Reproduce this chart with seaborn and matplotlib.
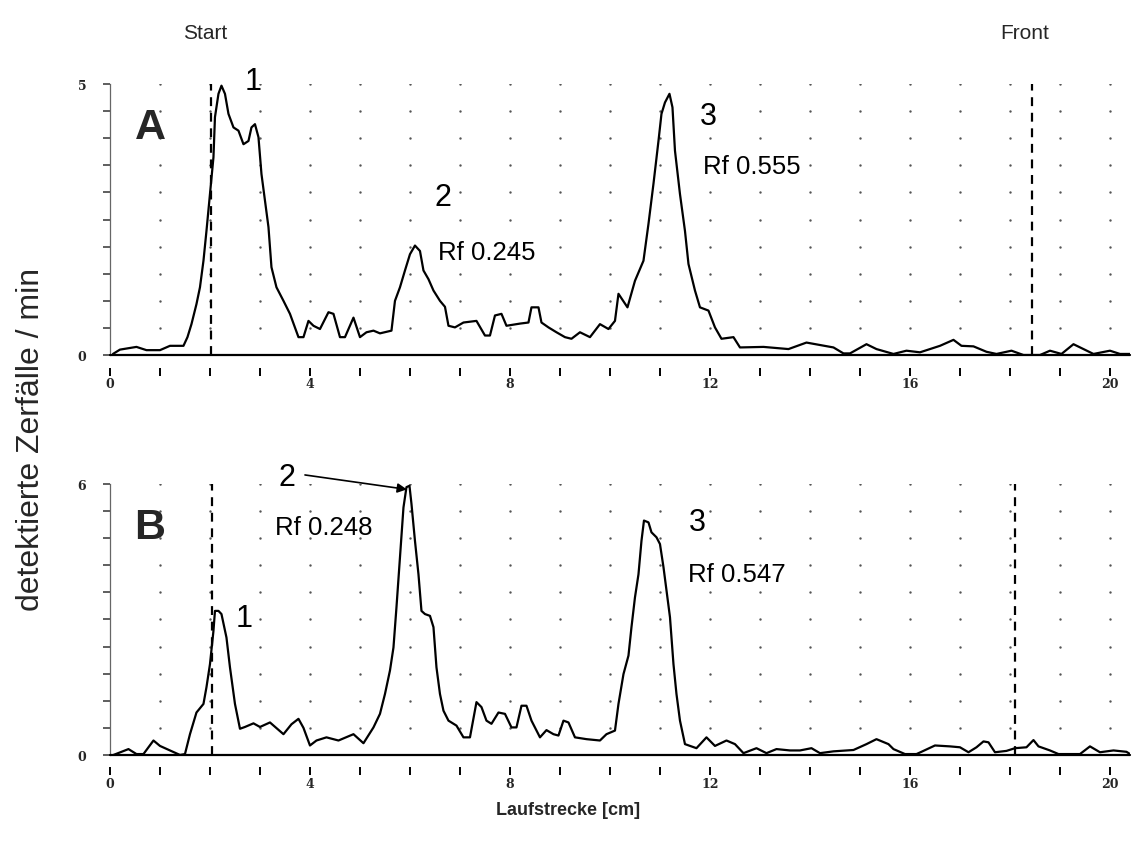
import numpy as np
import pandas as pd
import matplotlib
matplotlib.use("Agg")
import matplotlib.pyplot as plt
import matplotlib.transforms as mtransforms
import seaborn as sns

# Radio-TLC scan A: running distance [cm] and detected decays per minute
pos_a = [0.06, 0.2, 0.53, 0.73, 1.0, 1.2, 1.47, 1.55, 1.63, 1.73,
         1.8, 1.87, 1.93, 2.0, 2.07, 2.1, 2.17, 2.23, 2.3, 2.37,
         2.47, 2.57, 2.67, 2.77, 2.83, 2.9, 2.97, 3.03, 3.1, 3.17,
         3.23, 3.33, 3.47, 3.6, 3.7, 3.77, 3.87, 3.97, 4.07, 4.2,
         4.37, 4.47, 4.6, 4.7, 4.87, 5.0, 5.13, 5.27, 5.4, 5.63,
         5.7, 5.8, 5.9, 6.0, 6.1, 6.2, 6.27, 6.37, 6.47, 6.6,
         6.7, 6.77, 6.9, 7.07, 7.33, 7.5, 7.6, 7.7, 7.83, 7.93,
         8.2, 8.37, 8.43, 8.57, 8.63, 8.77, 8.93, 9.1, 9.23, 9.4,
         9.6, 9.8, 9.97, 10.1, 10.17, 10.35, 10.5, 10.67, 10.77, 10.87,
         10.97, 11.03, 11.1, 11.19, 11.25, 11.3, 11.4, 11.5, 11.57, 11.7,
         11.8, 11.97, 12.1, 12.23, 12.47, 12.6, 13.07, 13.57, 13.93, 14.47,
         14.67, 14.8, 15.13, 15.33, 15.67, 15.93, 16.2, 16.6, 16.87, 17.03,
         17.27, 17.53, 17.73, 18.03, 18.27, 18.6, 18.8, 19.03, 19.27, 19.47,
         19.67, 20.0, 20.2, 20.4]
counts_a = [0.02, 0.1, 0.15, 0.09, 0.09, 0.17, 0.17, 0.33, 0.57, 0.94,
            1.25, 1.74, 2.29, 2.97, 3.65, 4.39, 4.82, 4.97, 4.82, 4.45,
            4.2, 4.14, 3.89, 3.95, 4.2, 4.26, 4.02, 3.34, 2.85, 2.36,
            1.62, 1.25, 1.0, 0.76, 0.51, 0.33, 0.33, 0.63, 0.54, 0.48,
            0.79, 0.76, 0.33, 0.33, 0.69, 0.33, 0.42, 0.45, 0.40, 0.45,
            1.0, 1.25, 1.56, 1.86, 2.02, 1.92, 1.56, 1.4, 1.19, 1.0,
            0.89, 0.54, 0.51, 0.60, 0.63, 0.36, 0.36, 0.73, 0.76, 0.54,
            0.58, 0.6, 0.88, 0.88, 0.6, 0.51, 0.42, 0.33, 0.30, 0.42,
            0.33, 0.57, 0.48, 0.63, 1.13, 0.88, 1.37, 1.74, 2.42, 3.16,
            3.95, 4.45, 4.66, 4.82, 4.57, 3.77, 2.97, 2.29, 1.68, 1.19,
            0.88, 0.82, 0.51, 0.30, 0.33, 0.14, 0.15, 0.11, 0.23, 0.14,
            0.03, 0.03, 0.2, 0.11, 0.02, 0.08, 0.05, 0.17, 0.28, 0.17,
            0.16, 0.06, 0.02, 0.08, 0.0, 0.0, 0.08, 0.02, 0.2, 0.11,
            0.02, 0.08, 0.02, 0.02]

# Radio-TLC scan B
pos_b = [0.07, 0.37, 0.53, 0.67, 0.87, 1.0, 1.2, 1.4, 1.5, 1.6,
         1.73, 1.87, 1.93, 2.0, 2.07, 2.1, 2.17, 2.23, 2.33, 2.4,
         2.5, 2.6, 2.7, 2.87, 3.0, 3.2, 3.47, 3.63, 3.77, 3.87,
         4.0, 4.13, 4.33, 4.57, 4.87, 5.07, 5.27, 5.4, 5.5, 5.6,
         5.67, 5.73, 5.8, 5.87, 5.93, 5.99, 6.03, 6.1, 6.17, 6.23,
         6.3, 6.4, 6.47, 6.53, 6.6, 6.67, 6.77, 6.93, 7.07, 7.2,
         7.33, 7.43, 7.53, 7.63, 7.77, 7.9, 8.03, 8.13, 8.23, 8.33,
         8.43, 8.6, 8.73, 8.87, 8.97, 9.07, 9.17, 9.3, 9.53, 9.8,
         9.93, 10.1, 10.17, 10.27, 10.37, 10.43, 10.5, 10.57, 10.63, 10.68,
         10.77, 10.83, 10.93, 11.0, 11.07, 11.13, 11.2, 11.27, 11.33, 11.4,
         11.5, 11.73, 11.93, 12.1, 12.33, 12.5, 12.67, 12.93, 13.13, 13.33,
         13.6, 13.8, 14.03, 14.2, 14.47, 14.87, 15.13, 15.33, 15.57, 15.67,
         15.9, 16.13, 16.23, 16.5, 16.8, 17.0, 17.17, 17.33, 17.47, 17.57,
         17.7, 17.93, 18.1, 18.33, 18.47, 18.57, 18.8, 18.97, 19.4, 19.6,
         19.8, 20.07, 20.33, 20.4]
counts_b = [0.0, 0.13, 0.02, 0.02, 0.32, 0.2, 0.1, 0.0, 0.02, 0.46,
            0.94, 1.13, 1.5, 2.01, 2.75, 3.19, 3.19, 3.12, 2.6, 1.94,
            1.13, 0.58, 0.62, 0.7, 0.62, 0.72, 0.46, 0.68, 0.8, 0.6,
            0.21, 0.32, 0.39, 0.32, 0.46, 0.26, 0.61, 0.91, 1.35, 1.87,
            2.38, 3.27, 4.38, 5.48, 5.93, 5.96, 5.56, 4.74, 4.0, 3.19,
            3.12, 3.08, 2.83, 1.94, 1.35, 0.98, 0.76, 0.65, 0.39, 0.39,
            1.17, 1.06, 0.76, 0.69, 0.94, 0.91, 0.61, 0.61, 1.09, 1.09,
            0.76, 0.39, 0.55, 0.46, 0.43, 0.76, 0.72, 0.39, 0.35, 0.32,
            0.46, 0.54, 1.13, 1.79, 2.2, 2.83, 3.49, 4.0, 4.74, 5.19,
            5.15, 4.93, 4.82, 4.67, 4.16, 3.64, 3.05, 2.01, 1.35, 0.76,
            0.24, 0.15, 0.39, 0.2, 0.32, 0.24, 0.04, 0.15, 0.04, 0.13,
            0.1, 0.1, 0.15, 0.04, 0.08, 0.11, 0.24, 0.35, 0.24, 0.13,
            0.02, 0.02, 0.07, 0.21, 0.19, 0.17, 0.06, 0.17, 0.3, 0.28,
            0.06, 0.09, 0.15, 0.17, 0.33, 0.19, 0.1, 0.02, 0.02, 0.19,
            0.06, 0.1, 0.07, 0.02]

# Start and solvent front positions [cm]
start_a, front_a = 2.02, 18.45
start_b, front_b = 2.04, 18.1

ymax_a, ymax_b = 5, 6
x_max = 20.4

# Peak labels: (text, x, y, fontsize)
labels_a = [("1", 2.86, 5.06, 22), ("2", 6.66, 2.92, 22), ("Rf 0.245", 7.54, 1.9, 18.5),
            ("3", 11.96, 4.41, 22), ("Rf 0.555", 12.84, 3.49, 18.5)]
labels_b = [("1", 2.68, 3.03, 22), ("2", 3.54, 6.15, 22), ("Rf 0.248", 4.28, 5.05, 18.5),
            ("3", 11.74, 5.16, 22), ("Rf 0.547", 12.54, 4.0, 18.5)]

assert len(pos_a) == len(counts_a) and len(pos_b) == len(counts_b)

sns.set_style("white")
plt.rcParams['font.family'] = ['Liberation Sans', 'DejaVu Sans']

fig = plt.figure(figsize=(11.36, 8.54), dpi=100)
ax_a = fig.add_axes([0.0968, 0.5831, 0.8979, 0.3173])
ax_b = fig.add_axes([0.0968, 0.1148, 0.8979, 0.3173])

tick_font = dict(family='DejaVu Serif', weight='bold', size=9)


def style_panel(ax, ymax, start, front):
    ax.set_xlim(0, x_max)
    ax.set_ylim(0, ymax)
    for side in ("top", "right"):
        ax.spines[side].set_visible(False)
    ax.spines["bottom"].set_position(("outward", 9))
    ax.spines["bottom"].set_visible(False)
    ax.spines["left"].set_color("#666666")
    ax.spines["left"].set_linewidth(0.9)
    ax.axhline(0, color="black", lw=1.6, zorder=3, clip_on=False)

    xt = np.arange(0, 21, 1)
    ax.set_xticks(xt)
    ax.set_xticklabels([str(v) if v % 4 == 0 else "" for v in xt], fontdict=tick_font)
    yt = np.linspace(0, ymax, 11)
    ax.set_yticks(yt)
    ax.set_yticklabels(["0"] + [""] * 9 + [str(ymax)], fontdict=tick_font)
    ax.tick_params(axis="x", bottom=True, direction="out", length=6, width=1.4,
                   color="black", pad=1)
    ax.tick_params(axis="y", left=True, direction="out", length=5, width=1.1,
                   color="#333333", pad=12)
    ax.set_xlabel("")
    ax.set_ylabel("")

    # dotted grid at every tick intersection
    gx, gy = np.meshgrid(xt[1:], yt[1:])
    ax.scatter(gx.ravel(), gy.ravel(), s=3, color="#555555", linewidths=0, zorder=1)

    ax.vlines([start, front], 0, ymax, colors="black", linestyles=(0, (4, 3)),
              linewidth=1.6, zorder=2)


df_a = pd.DataFrame({"pos": pos_a, "counts": counts_a})
df_b = pd.DataFrame({"pos": pos_b, "counts": counts_b})

sns.lineplot(data=df_a, x="pos", y="counts", ax=ax_a, color="black", lw=1.6,
             estimator=None, legend=False, zorder=4)
sns.lineplot(data=df_b, x="pos", y="counts", ax=ax_b, color="black", lw=1.6,
             estimator=None, legend=False, zorder=4)

style_panel(ax_a, ymax_a, start_a, front_a)
style_panel(ax_b, ymax_b, start_b, front_b)

for ax, labels in ((ax_a, labels_a), (ax_b, labels_b)):
    for txt, x, y, fs in labels:
        ax.text(x, y, txt, fontsize=fs, ha="center", va="center", color="black")

ax_a.text(0.8, 4.2, "A", fontsize=31, fontweight="bold", ha="center", va="center")
ax_b.text(0.8, 5.05, "B", fontsize=31, fontweight="bold", ha="center", va="center")

# arrow from label "2" to the top of the second peak in B
peak_idx = int(np.argmax(counts_b))
ax_b.annotate("", xy=(pos_b[peak_idx] - 0.05, counts_b[peak_idx] - 0.08), xytext=(3.9, 6.2),
              arrowprops=dict(arrowstyle="-|>", color="black", lw=1.2, mutation_scale=14,
                              shrinkA=0, shrinkB=0),
              annotation_clip=False)

trans = mtransforms.blended_transform_factory(ax_a.transData, ax_a.transAxes)
ax_a.text(1.9, 1.19, "Start", transform=trans, fontsize=15, ha="center", va="center")
ax_a.text(18.3, 1.19, "Front", transform=trans, fontsize=15, ha="center", va="center")

fig.text(0.027, 0.485, "detektierte Zerfälle / min", rotation=90, fontsize=23,
         ha="center", va="center")
fig.text(0.5, 0.0515, "Laufstrecke [cm]", fontsize=13, fontweight="bold",
         ha="center", va="center")

fig.savefig("out.png", dpi=100, facecolor="white")
